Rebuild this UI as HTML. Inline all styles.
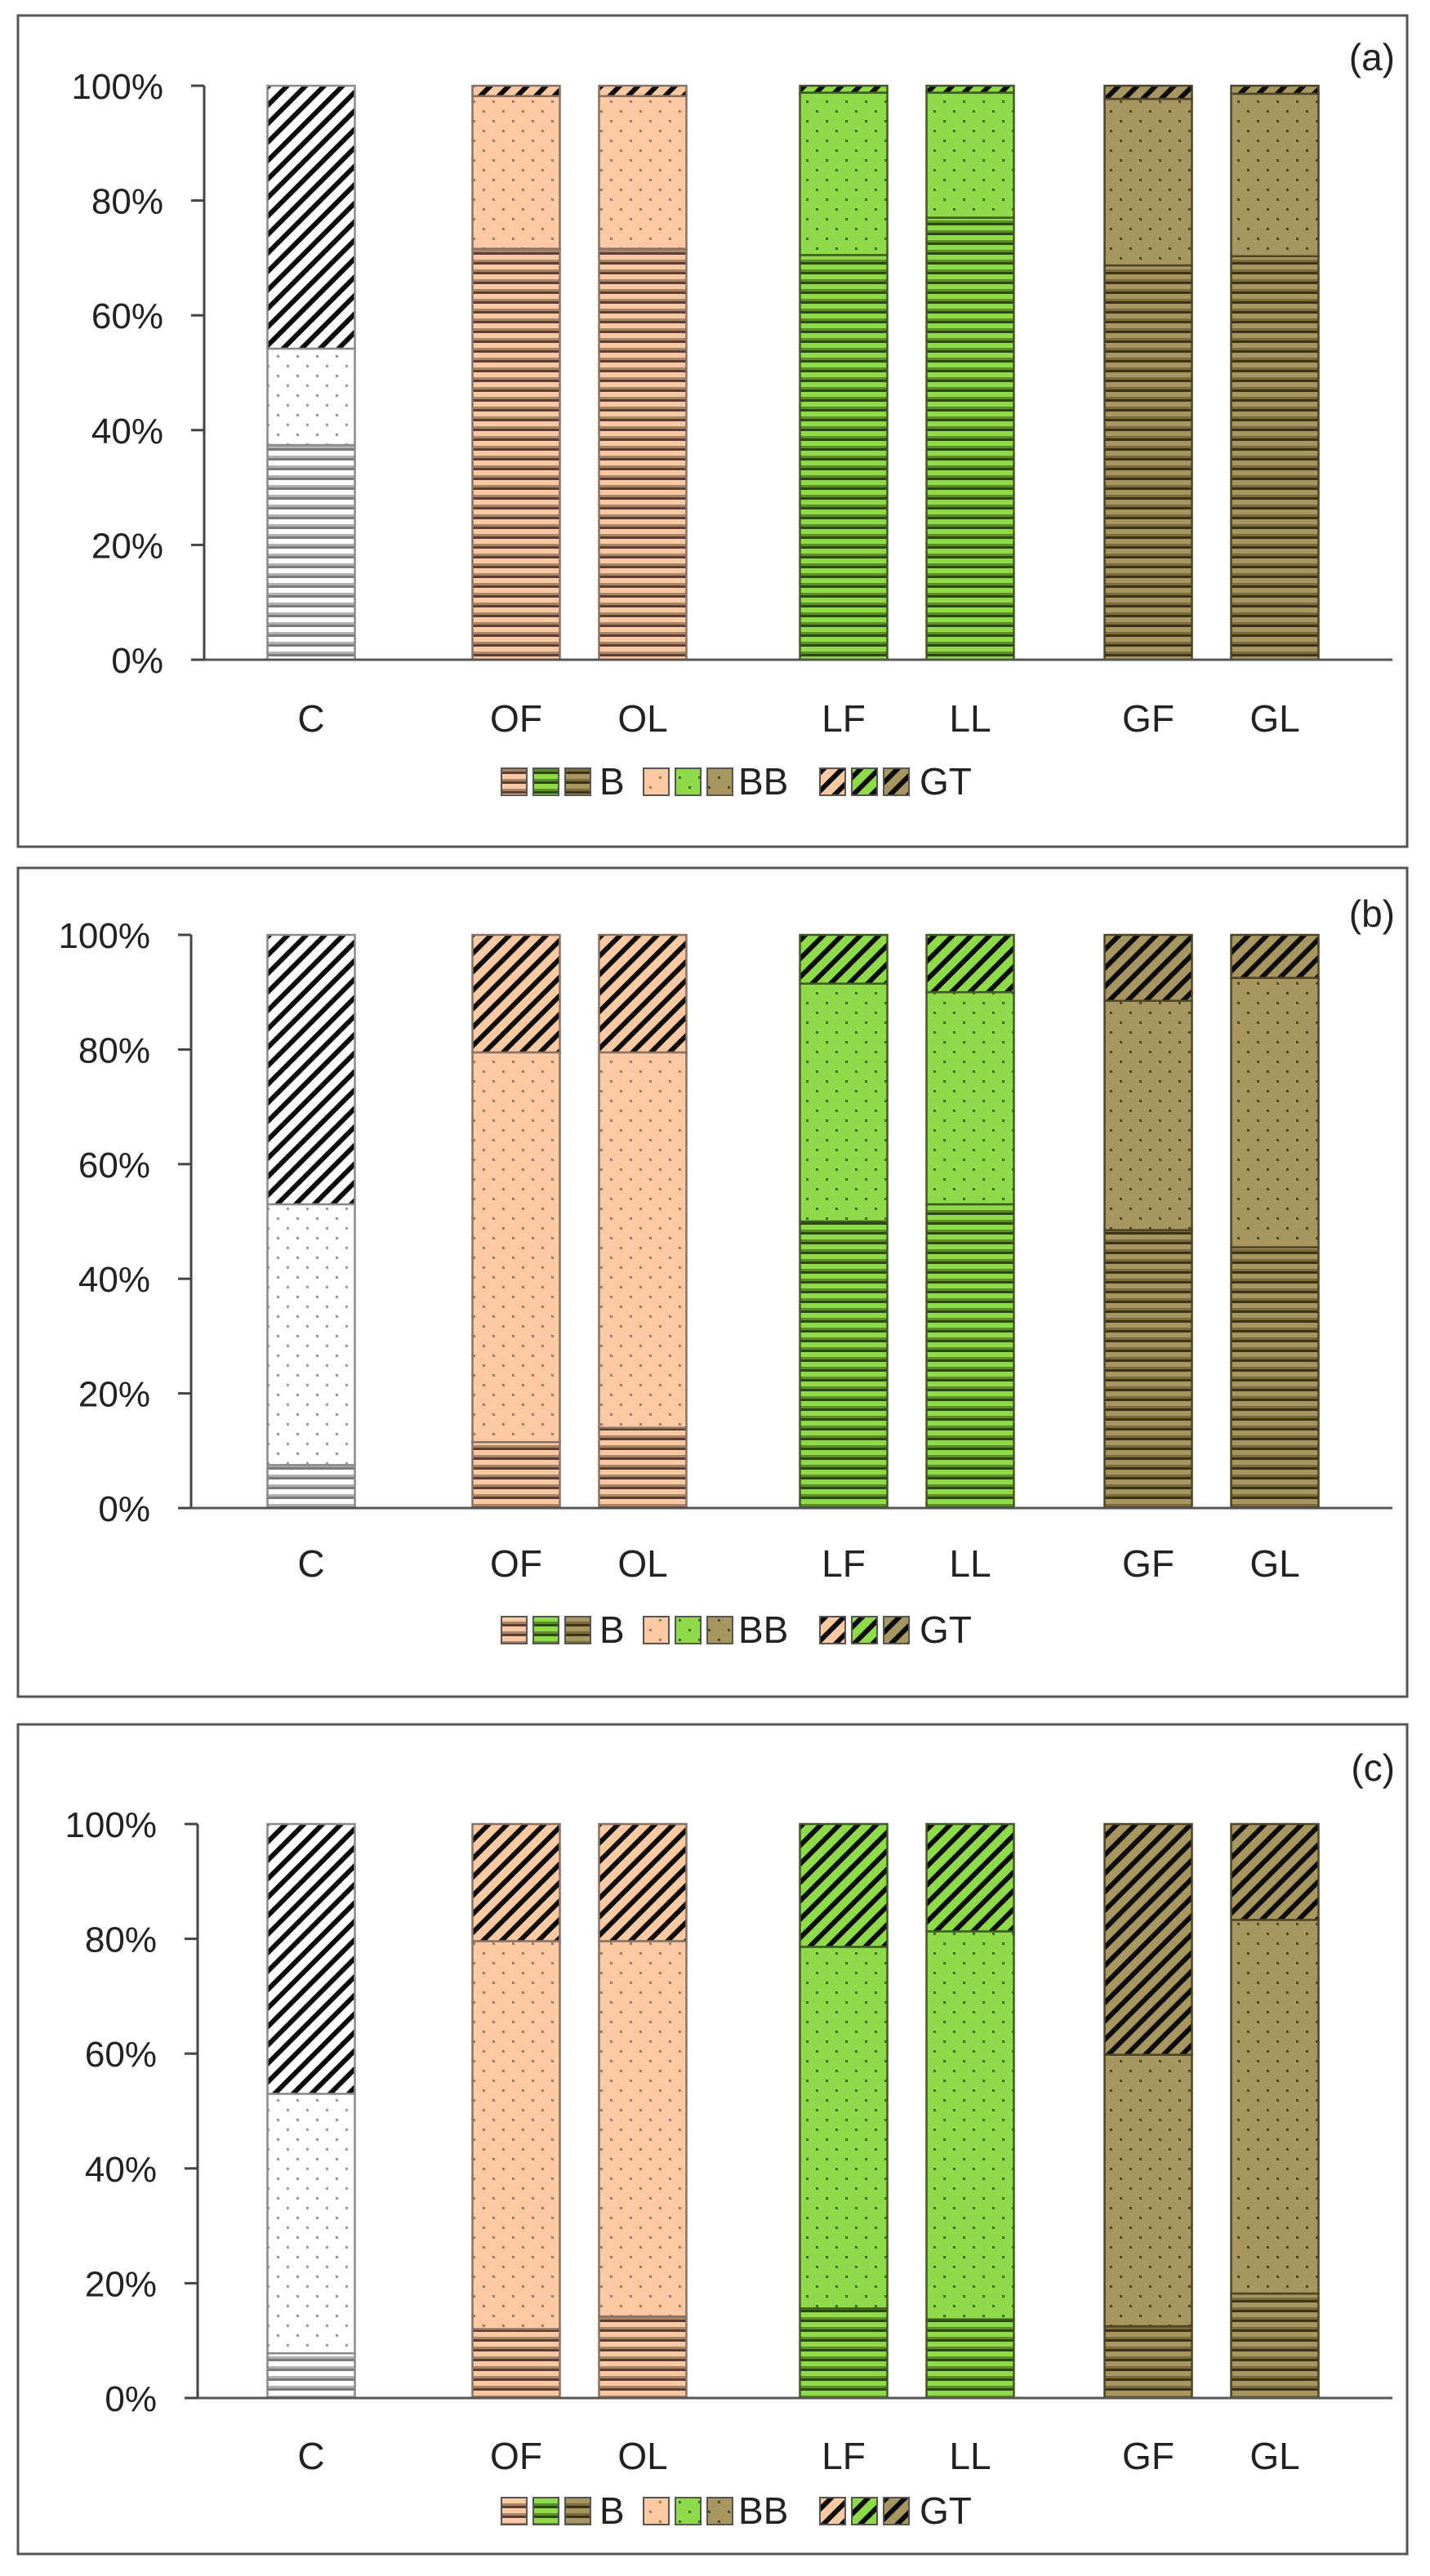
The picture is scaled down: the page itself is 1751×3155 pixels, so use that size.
<!DOCTYPE html>
<html><head><meta charset="utf-8"><style>
html,body{margin:0;padding:0;background:#fff;}
svg{display:block;}
text{font-family:"Liberation Sans",sans-serif;fill:#222;}
</style></head><body>
<svg id="chart" xmlns="http://www.w3.org/2000/svg" width="1751" height="3155" viewBox="0 0 1751 3155">
<defs id="defs"></defs>
</svg>
<script>
// ---- data ----
const categories = ["C","OF","OL","LF","LL","GF","GL"];
const catGroup = [0,1,1,2,2,3,3];
const catWithin = [0,0,1,1,2,2,3];
const yTicks = [0,20,40,60,80,100];
const yTickLabels = ["0%","20%","40%","60%","80%","100%"];
const seriesNames = ["B","BB","GT"];
const panelTags = ["(a)","(b)","(c)"];
// panel a
const aB  = [37.4,71.6,71.6,70.5,77.0,68.7,70.3];
const aBB = [16.8,26.6,26.6,28.3,21.8,29.0,28.3];
const aGT = [45.8,1.8,1.8,1.2,1.2,2.3,1.4];
// panel b
const bB  = [7.5,11.5,14.0,50.0,53.0,48.5,45.5];
const bBB = [45.5,68.0,65.5,41.5,37.0,40.0,47.0];
const bGT = [47.0,20.5,20.5,8.5,10.0,11.5,7.5];
// panel c
const cB  = [7.8,12.0,14.2,15.6,13.7,12.5,18.2];
const cBB = [45.2,67.6,65.4,63.0,67.6,47.3,65.1];
const cGT = [47.0,20.4,20.4,21.4,18.7,40.2,16.7];

const NS="http://www.w3.org/2000/svg";
const svg=document.getElementById('chart');
const defs=document.getElementById('defs');
function mk(tag,attrs,parent){const e=document.createElementNS(NS,tag);for(const k in attrs)e.setAttribute(k,attrs[k]);(parent||svg).appendChild(e);return e;}

const palettes=[
 {light:"#ffffff",mid:"#b0b0b0",dark:"#7a7a7a",dot:"#9a9a9a",out:"#8a8a8a"},
 {light:"#fcc9a3",mid:"#a88468",dark:"#5e3e32",dot:"#a07a60",out:"#8a7060"},
 {light:"#8fda48",mid:"#5e8c2a",dark:"#2a4a15",dot:"#3c6a1e",out:"#3d5a22"},
 {light:"#a89660",mid:"#7a6c3c",dark:"#3d3418",dot:"#4a4a20",out:"#4d4525"}
];
palettes.forEach((p,i)=>{
  let pt=mk('pattern',{id:'pB'+i,patternUnits:'userSpaceOnUse',width:12,height:12},defs);
  mk('rect',{width:12,height:12,fill:p.light},pt);
  mk('rect',{y:6,width:12,height:3,fill:p.mid},pt);
  mk('rect',{y:9,width:12,height:3,fill:p.dark},pt);
  pt=mk('pattern',{id:'pBB'+i,patternUnits:'userSpaceOnUse',width:24,height:24},defs);
  mk('rect',{width:24,height:24,fill:p.light},pt);
  mk('rect',{x:3,y:3,width:3,height:3,fill:p.dot},pt);
  mk('rect',{x:15,y:15,width:3,height:3,fill:p.dot},pt);
  pt=mk('pattern',{id:'pGT'+i,patternUnits:'userSpaceOnUse',width:16,height:16,patternTransform:'rotate(45)'},defs);
  mk('rect',{width:16,height:16,fill:p.light},pt);
  mk('rect',{x:0,width:6,height:16,fill:'#0a0a0a'},pt);
});

const panels=[
 {top:19,bot:1037,axisX:250,y100:105,y0:808,catY:880,legY:957,tagY:70,vals:[aB,aBB,aGT]},
 {top:1063,bot:2078,axisX:234,y100:1145,y0:1847,catY:1915,legY:1996,tagY:1119,vals:[bB,bBB,bGT]},
 {top:2112,bot:3128,axisX:242,y100:2234,y0:2937,catY:3008,legY:3075,tagY:2165,vals:[cB,cBB,cGT]}
];
const barW=107, startX=381, withinStep=155;
const groupGaps=[0,251,246,218];
function xPos(i){
  let off=0;
  for(let g=1;g<=catGroup[i];g++) off+=groupGaps[g];
  return startX + off + catWithin[i]*withinStep;
}

panels.forEach((P,pi)=>{
  const g=mk('g',{});
  
  
  const frame=mk('rect',{x:22,y:P.top,width:1701,height:P.bot-P.top,fill:'none',stroke:'#555',"stroke-width":3},g);
  
  
  const yS=v=>P.y0-(P.y0-P.y100)*v/100;
  categories.forEach((c,i)=>{
    const cx=xPos(i), pal=palettes[catGroup[i]];
    let acc=0;
    P.vals.forEach((arr,si)=>{
      const v=arr[i]; const y1=yS(acc), y2=yS(acc+v); acc+=v;
      const r=mk('rect',{x:cx-barW/2,y:y2,width:barW,height:Math.max(0,y1-y2),fill:'url(#p'+seriesNames[si]+catGroup[i]+')',stroke:pal.out,"stroke-width":2.5},g);
      
      
    });
    const t=mk('text',{x:cx,y:P.catY+16,"font-size":46,"text-anchor":"middle"},g);
    t.textContent=c;
    
    
  });
  const ya=mk('line',{x1:P.axisX,y1:P.y100,x2:P.axisX,y2:P.y0,stroke:'#444',"stroke-width":3},g);
  
  
  yTicks.forEach((v,k)=>{
    const y=yS(v);
    mk('line',{x1:P.axisX-16,y1:y,x2:P.axisX,y2:y,stroke:'#444',"stroke-width":3},g);
    const t=mk('text',{x:P.axisX-50,y:y+16,"font-size":44,"text-anchor":"end"},g);
    t.textContent=yTickLabels[k];
    
    
  });
  const xa=mk('line',{x1:P.axisX,y1:P.y0,x2:1705,y2:P.y0,stroke:'#555',"stroke-width":3},g);
  
  
  const tg=mk('text',{x:1708,y:P.tagY+16,"font-size":46,"text-anchor":"end"},g);
  tg.textContent=panelTags[pi];
  
  
  const legX=[614,788,1004], txtX=[734,904,1126];
  seriesNames.forEach((s,si)=>{
    const lg=mk('g',{},g);
    
    
    for(let k=1;k<4;k++){
      mk('rect',{x:legX[si]+(k-1)*39,y:P.legY-16,width:31,height:33,fill:'url(#p'+s+k+')',stroke:'#555',"stroke-width":2},lg);
    }
    const t=mk('text',{x:txtX[si],y:P.legY+16,"font-size":46},lg);
    t.textContent=s;
  });
});
</script>
</body></html>
